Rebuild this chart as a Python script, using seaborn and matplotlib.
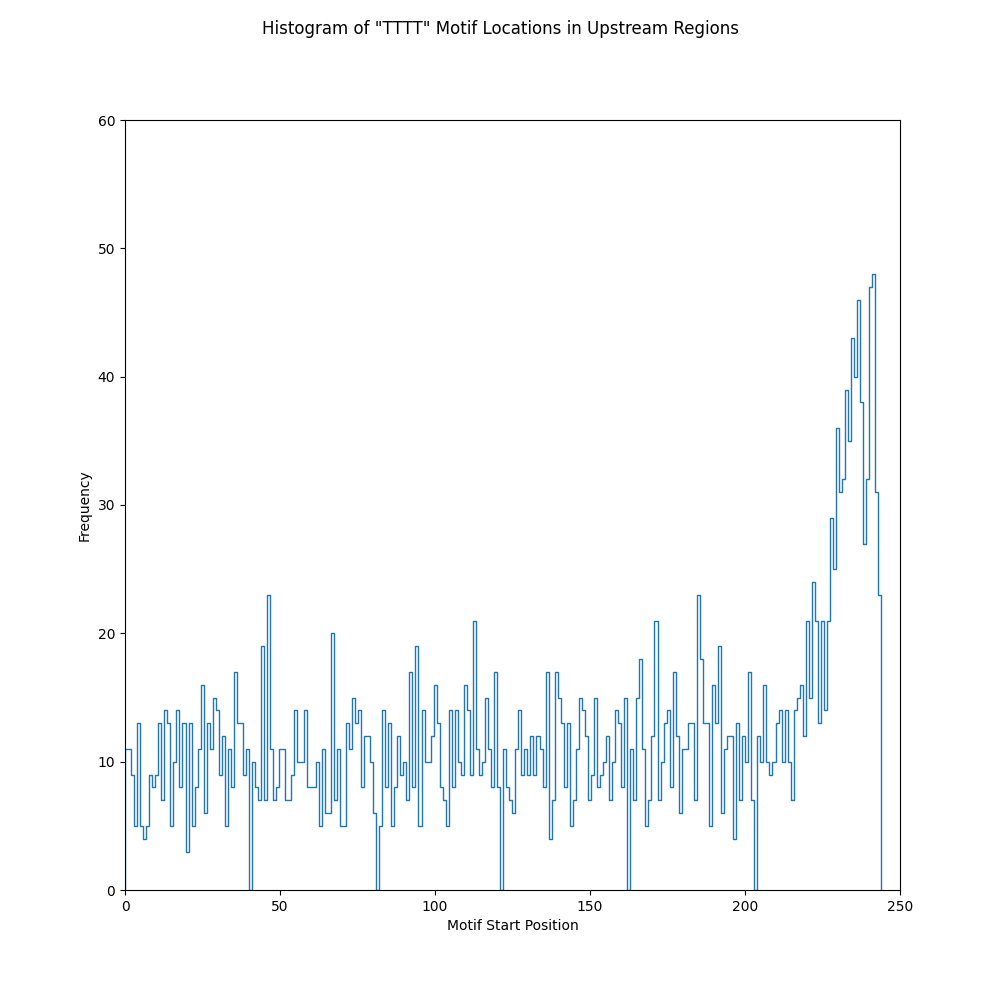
import numpy as np
import matplotlib
matplotlib.use("Agg")
import matplotlib.pyplot as plt
import seaborn as sns

# motif start positions (0..244) and how often each occurs
positions = np.arange(245)
counts = [
    11, 11, 9, 5, 13, 5, 4, 5, 9, 8, 9, 13, 7, 14, 13, 5, 10, 14, 8, 13,
    3, 13, 5, 8, 11, 16, 6, 13, 11, 15, 14, 9, 12, 5, 11, 8, 17, 13, 13, 9,
    11, 10, 8, 7, 19, 7, 23, 11, 7, 8, 11, 11, 7, 7, 9, 14, 10, 10, 14, 8,
    8, 8, 10, 5, 11, 6, 6, 20, 7, 11, 5, 5, 13, 11, 15, 13, 14, 8, 12, 12,
    10, 6, 5, 14, 8, 13, 5, 8, 12, 9, 10, 7, 17, 8, 19, 5, 14, 10, 10, 12,
    16, 13, 8, 7, 5, 14, 8, 14, 10, 9, 16, 14, 9, 21, 11, 9, 10, 15, 11, 8,
    17, 8, 11, 8, 7, 6, 11, 14, 9, 11, 9, 12, 9, 12, 11, 8, 17, 4, 7, 17,
    15, 13, 8, 13, 5, 7, 11, 15, 14, 12, 7, 9, 15, 8, 9, 10, 12, 7, 10, 14,
    13, 8, 15, 11, 7, 15, 18, 11, 5, 7, 12, 21, 7, 10, 13, 14, 8, 17, 12, 6,
    11, 11, 13, 13, 7, 23, 18, 13, 13, 5, 16, 13, 19, 6, 11, 12, 12, 4, 13, 7,
    12, 10, 17, 7, 12, 10, 16, 10, 9, 10, 13, 14, 10, 14, 10, 7, 14, 15, 16, 12,
    21, 15, 24, 21, 13, 21, 14, 21, 29, 25, 36, 31, 32, 39, 35, 43, 40, 46, 38, 27,
    32, 47, 48, 31, 23,
]

fig, ax = plt.subplots(figsize=(10, 10), dpi=100)
sns.histplot(x=positions, weights=counts, bins=250, element="step", fill=False,
             color="#1f77b4", linewidth=1, ax=ax)

# close the outline down to the baseline at both ends, like a step histogram
line = ax.lines[-1]
xs, ys = line.get_data()
line.set_data(np.r_[xs[0], xs, xs[-1]], np.r_[0, ys, 0])

ax.set_xlim(0, 250)
ax.set_ylim(0, 60)
ax.set_xlabel("Motif Start Position")
ax.set_ylabel("Frequency")
fig.suptitle('Histogram of "TTTT" Motif Locations in Upstream Regions')

plt.savefig("out.png")
